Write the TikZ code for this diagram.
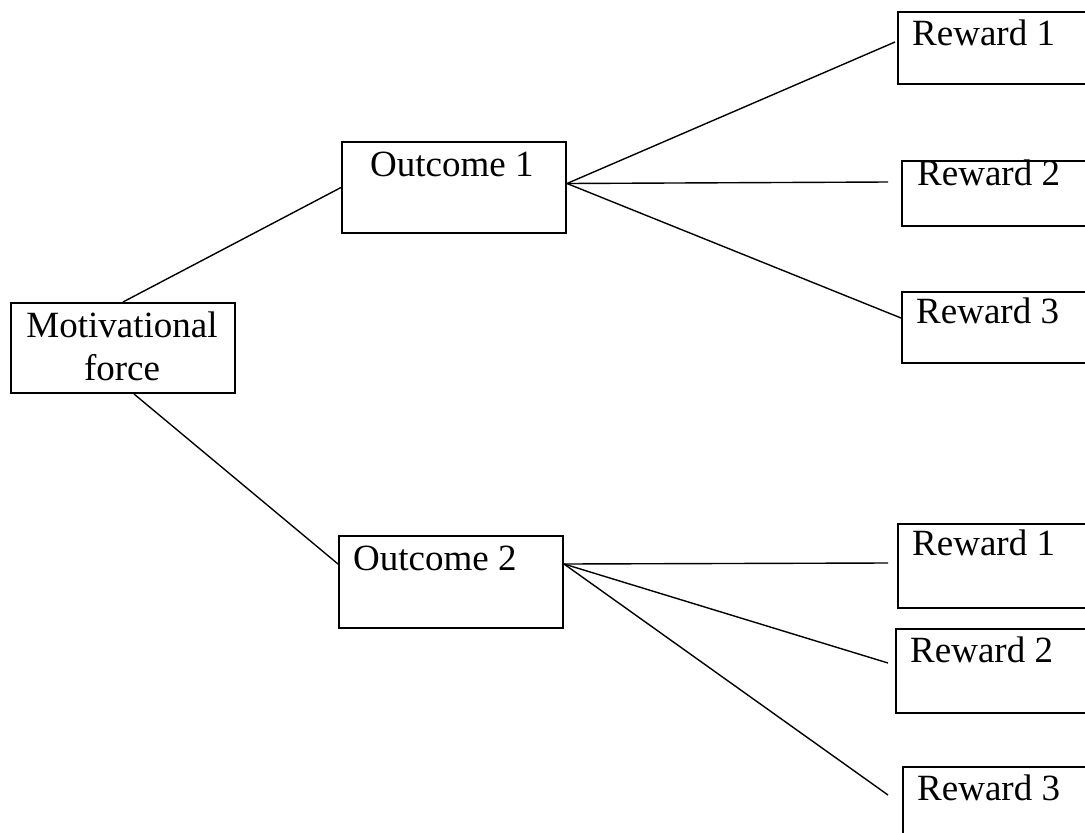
\documentclass[tikz,border=0pt]{standalone}
\usepackage{fontspec}
\setmainfont{Liberation Serif}
\begin{document}
\begin{tikzpicture}[x=1pt,y=-1pt,
  box/.style={draw, line width=2pt, inner sep=0pt, anchor=north west},
  lbl/.style={font=\fontsize{37}{43}\selectfont, inner sep=0pt, anchor=base west},
  link/.style={line width=1.4pt}]
\clip (0,0) rectangle (1085,833);
% boxes
\node[box, minimum width=224pt, minimum height=90pt] (mf) at (10,302) {};
\node[box, minimum width=224pt, minimum height=91pt] (o1) at (341,141) {};
\node[box, minimum width=224pt, minimum height=92pt] (o2) at (338,535) {};
\node[box, minimum width=220pt, minimum height=72pt] (r1a) at (897,11) {};
\node[box, minimum width=220pt, minimum height=65pt] (r2a) at (901,160) {};
\node[box, minimum width=220pt, minimum height=71pt] (r3a) at (901,291) {};
\node[box, minimum width=220pt, minimum height=84pt] (r1b) at (897,523) {};
\node[box, minimum width=220pt, minimum height=84pt] (r2b) at (895,628) {};
\node[box, minimum width=220pt, minimum height=90pt] (r3b) at (902,766) {};
% texts
\node[lbl, anchor=base] (mft1) at (122,337) {Motivational};
\node[lbl, anchor=base] (mft2) at (122,380) {force};
\node[lbl] (o1t) at (370,176) {Outcome 1};
\node[lbl] (o2t) at (353,570) {Outcome 2};
\node[lbl] (r1at) at (912,45) {Reward 1};
\node[lbl] (r2at) at (917,185) {Reward 2};
\node[lbl] (r3at) at (916,323) {Reward 3};
\node[lbl] (r1bt) at (912,555) {Reward 1};
\node[lbl] (r2bt) at (910,662) {Reward 2};
\node[lbl] (r3bt) at (917,800) {Reward 3};
% free ends
\coordinate (e1) at (895,42);
\coordinate (e2) at (888,182);
\coordinate (e3) at (901,318);
\coordinate (f1) at (888,563);
\coordinate (f2) at (888,663);
\coordinate (f3) at (888,795);
% connectors
\draw[link] (mf.north) -- (o1.west);
\draw[link] ([xshift=11pt]mf.south) -- ([yshift=18pt]o2.west);
\draw[link] ([yshift=4pt]o1.east) -- (e1);
\draw[link] ([yshift=4pt]o1.east) -- (e2);
\draw[link] ([yshift=4pt]o1.east) -- (e3);
\draw[link] ([yshift=18pt]o2.east) -- (f1);
\draw[link] ([yshift=18pt]o2.east) -- (f2);
\draw[link] ([yshift=18pt]o2.east) -- (f3);
\end{tikzpicture}
\end{document}
